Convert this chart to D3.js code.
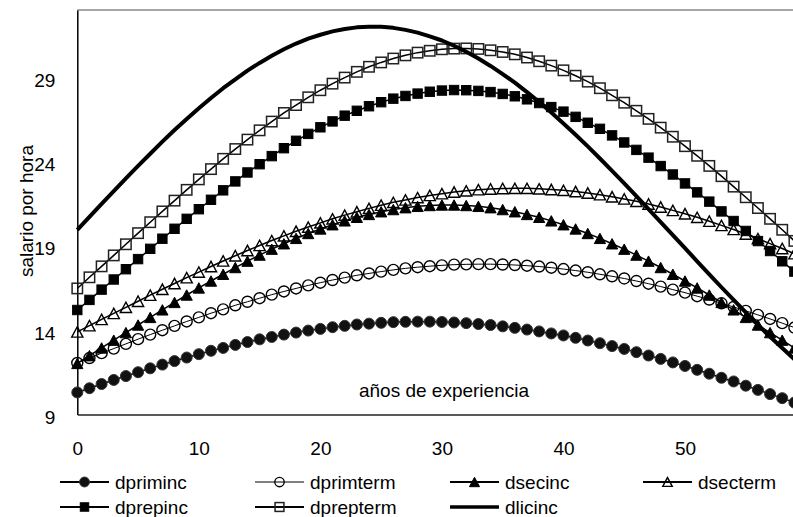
<!DOCTYPE html>
<html>
<head>
<meta charset="utf-8">
<script src="https://cdn.jsdelivr.net/npm/d3@7"></script>
<style>
  html, body { margin: 0; padding: 0; background: #fff; }
  svg { display: block; }
  text { font-family: "Liberation Sans", Arial, Helvetica, sans-serif; fill: #000; }
</style>
</head>
<body>
<svg id="chart" width="793" height="517"></svg>
<script>
// ---- data ----
const years = [0,1,2,3,4,5,6,7,8,9,10,11,12,13,14,15,16,17,18,19,20,21,22,23,24,25,26,27,28,29,
  30,31,32,33,34,35,36,37,38,39,40,41,42,43,44,45,46,47,48,49,50,51,52,53,54,55,56,57,58,59];

const dpriminc = [10.31,10.56,10.81,11.05,11.28,11.51,11.74,11.96,12.17,12.38,12.58,12.78,12.95,13.13,13.30,
  13.46,13.60,13.74,13.86,13.98,14.08,14.18,14.26,14.34,14.39,14.44,14.48,14.50,14.51,14.51,
  14.49,14.46,14.42,14.37,14.31,14.23,14.14,14.04,13.93,13.81,13.69,13.55,13.39,13.23,13.06,
  12.89,12.70,12.50,12.30,12.09,11.88,11.65,11.42,11.18,10.96,10.71,10.46,10.21,9.97,9.71];

const dprimterm = [12.06,12.35,12.64,12.91,13.19,13.47,13.74,14.00,14.26,14.52,14.76,15.01,15.24,15.48,15.69,
  15.90,16.11,16.30,16.48,16.66,16.82,16.98,17.12,17.26,17.37,17.48,17.58,17.67,17.74,17.80,
  17.85,17.89,17.91,17.92,17.92,17.90,17.87,17.83,17.78,17.71,17.63,17.54,17.44,17.32,17.20,
  17.07,16.92,16.76,16.59,16.41,16.23,16.02,15.82,15.60,15.38,15.15,14.91,14.67,14.42,14.16];

const dsecinc = [12.03,12.49,12.95,13.41,13.86,14.31,14.76,15.21,15.65,16.09,16.51,16.92,17.32,17.72,18.10,
  18.46,18.81,19.13,19.45,19.74,20.01,20.26,20.49,20.70,20.87,21.03,21.16,21.27,21.35,21.40,
  21.43,21.43,21.40,21.35,21.27,21.16,21.03,20.87,20.70,20.49,20.26,20.01,19.74,19.45,19.13,
  18.81,18.46,18.10,17.72,17.32,16.92,16.51,16.09,15.65,15.21,14.76,14.31,13.86,13.41,12.95];

const dsecterm = [13.90,14.27,14.64,15.00,15.36,15.72,16.08,16.43,16.77,17.12,17.45,17.78,18.11,18.42,18.73,
  19.03,19.32,19.60,19.87,20.12,20.37,20.61,20.83,21.03,21.23,21.42,21.59,21.73,21.87,22.00,
  22.10,22.20,22.27,22.34,22.38,22.41,22.42,22.42,22.39,22.35,22.30,22.23,22.14,22.04,21.92,
  21.79,21.65,21.49,21.31,21.11,20.91,20.70,20.47,20.22,19.98,19.71,19.43,19.14,18.85,18.54];

const dprepinc = [15.20,15.80,16.41,17.01,17.62,18.22,18.83,19.43,20.02,20.61,21.18,21.74,22.30,22.83,23.36,
  23.85,24.33,24.80,25.24,25.65,26.04,26.39,26.73,27.02,27.29,27.53,27.74,27.90,28.04,28.15,
  28.22,28.25,28.24,28.20,28.13,28.02,27.88,27.70,27.48,27.24,26.97,26.66,26.31,25.95,25.56,
  25.14,24.70,24.24,23.74,23.24,22.71,22.18,21.63,21.05,20.48,19.89,19.29,18.70,18.09,17.48];

const dprepterm = [16.48,17.14,17.79,18.44,19.10,19.76,20.41,21.05,21.69,22.33,22.95,23.56,24.17,24.75,25.31,
  25.86,26.38,26.89,27.36,27.82,28.24,28.63,28.99,29.33,29.63,29.89,30.12,30.31,30.47,30.58,
  30.67,30.71,30.72,30.69,30.61,30.51,30.37,30.18,29.96,29.70,29.42,29.10,28.75,28.36,27.94,
  27.50,27.02,26.54,26.02,25.48,24.92,24.35,23.75,23.14,22.52,21.89,21.25,20.61,19.96,19.30];

const dlicinc = [19.95,20.73,21.50,22.26,23.01,23.75,24.47,25.19,25.88,26.53,27.17,27.78,28.36,28.89,29.40,
  29.86,30.29,30.67,31.01,31.30,31.53,31.73,31.87,31.97,32.01,32.00,31.94,31.82,31.66,31.44,
  31.19,30.88,30.52,30.12,29.68,29.20,28.69,28.13,27.54,26.92,26.27,25.60,24.91,24.19,23.46,
  22.71,21.95,21.18,20.42,19.64,18.87,18.09,17.32,16.55,15.80,15.06,14.32,13.61,12.95,12.27];

const yTicks = [9, 14, 19, 24, 29];
const xTicks = [0, 10, 20, 30, 40, 50];
const seriesNames = ["dpriminc","dprimterm","dsecinc","dsecterm","dprepinc","dprepterm","dlicinc"];
const yTitle = "salario por hora";
const xTitle = "años de experiencia";

// ---- styling per series ----
const seriesData = [dpriminc, dprimterm, dsecinc, dsecterm, dprepinc, dprepterm, dlicinc];
const styles = {
  dpriminc:  {marker: "circle",   filled: true,  lw: 1.5},
  dprimterm: {marker: "circle",   filled: false, lw: 1.0},
  dsecinc:   {marker: "triangle", filled: true,  lw: 1.5},
  dsecterm:  {marker: "triangle", filled: false, lw: 1.5},
  dprepinc:  {marker: "square",   filled: true,  lw: 1.5},
  dprepterm: {marker: "square",   filled: false, lw: 1.5},
  dlicinc:   {marker: null,       filled: false, lw: 4}
};

const svg = d3.select("#chart");
svg.append("rect").attr("width", 793).attr("height", 517).attr("fill", "#fff");

const x = d3.scaleLinear().domain([0, 60]).range([77.3, 77.3 + 60 * 12.154]);
const y = d3.scaleLinear().domain([9, 33]).range([414.5, 10]);

// plot frame
svg.append("line").attr("x1", x(0)).attr("x2", 793).attr("y1", y(33)).attr("y2", y(33))
  .attr("stroke", "#888").attr("stroke-width", 1.5);

// axes
const yAxis = d3.axisLeft(y).tickValues(yTicks).tickSize(0).tickPadding(22);
const gy = svg.append("g").attr("transform", `translate(${x(0)},0)`).call(yAxis);
gy.select(".domain").attr("stroke", "#000").attr("stroke-width", 1.5);
gy.selectAll(".tick text").attr("font-size", 19).attr("dy", "0.47em")
  .style("font-family", '"Liberation Sans", Arial, sans-serif');

const xAxis = d3.axisBottom(x).tickValues(xTicks).tickSize(0).tickPadding(27);
const gx = svg.append("g").attr("transform", `translate(0,${y(9)})`).call(xAxis);
gx.select(".domain").attr("stroke", "#222").attr("stroke-width", 1.5);
gx.selectAll(".tick text").attr("font-size", 19)
  .style("font-family", '"Liberation Sans", Arial, sans-serif');

// titles
svg.append("text").attr("transform", "translate(33,211) rotate(-90)")
  .attr("text-anchor", "middle").attr("font-size", 19).text(yTitle);
svg.append("text").attr("x", 444).attr("y", 397)
  .attr("text-anchor", "middle").attr("font-size", 19).text(xTitle);

// marker drawing helper
function drawMarker(g, type, filled, cx, cy, scale) {
  const s = scale || 1;
  const fill = filled ? "#000" : "none";
  if (type === "circle") {
    g.append("circle").attr("cx", cx).attr("cy", cy).attr("r", 5.5 * s)
      .attr("fill", filled ? "#111" : "none")
      .attr("stroke", filled ? "#333" : "#000").attr("stroke-width", filled ? 1 : 1.4);
  } else if (type === "triangle") {
    const w = 5.6 * s, h = 5.2 * s;
    g.append("path")
      .attr("d", `M${cx - w},${cy + h}L${cx + w},${cy + h}L${cx},${cy - h}Z`)
      .attr("fill", fill).attr("stroke", "#000").attr("stroke-width", filled ? 1 : 1.4)
      .attr("stroke-linejoin", "miter");
  } else if (type === "square") {
    const h = (filled ? 4.7 : 5.2) * s;
    g.append("rect").attr("x", cx - h).attr("y", cy - h).attr("width", 2 * h).attr("height", 2 * h)
      .attr("fill", fill).attr("stroke", filled ? "#000" : "#222").attr("stroke-width", filled ? 1 : 1.5);
  }
}

// series
const line = d3.line().x((d, i) => x(years[i])).y(d => y(d));
seriesNames.forEach((name, si) => {
  const st = styles[name];
  const vals = seriesData[si];
  const g = svg.append("g").attr("class", "series " + name);
  g.append("path").datum(vals).attr("d", line)
    .attr("fill", "none").attr("stroke", "#000").attr("stroke-width", st.lw)
    .attr("stroke-linejoin", "round");
  if (st.marker) {
    vals.forEach((v, i) => drawMarker(g, st.marker, st.filled, x(years[i]), y(v), 1));
  }
});

// legend
const legendPos = [
  {lx: 60, ly: 482}, {lx: 255, ly: 482}, {lx: 450, ly: 482}, {lx: 643, ly: 482},
  {lx: 60, ly: 507}, {lx: 255, ly: 507}, {lx: 450, ly: 507}
];
seriesNames.forEach((name, si) => {
  const st = styles[name];
  const p = legendPos[si];
  const g = svg.append("g").attr("class", "legend-item");
  g.append("line").attr("x1", p.lx).attr("x2", p.lx + 49).attr("y1", p.ly).attr("y2", p.ly)
    .attr("stroke", "#000").attr("stroke-width", st.marker ? (st.lw < 1.2 ? 1 : 2) : 3.5);
  if (st.marker) {
    if (!st.filled) {
      // hollow legend markers sit on a white background
      drawMarker(g, st.marker, st.filled, p.lx + 24.5, p.ly, 0.85);
    } else {
      drawMarker(g, st.marker, st.filled, p.lx + 24.5, p.ly, 0.9);
    }
  }
  g.append("text").attr("x", p.lx + 55).attr("y", p.ly + 7)
    .attr("font-size", 19).text(name);
});
</script>
</body>
</html>
